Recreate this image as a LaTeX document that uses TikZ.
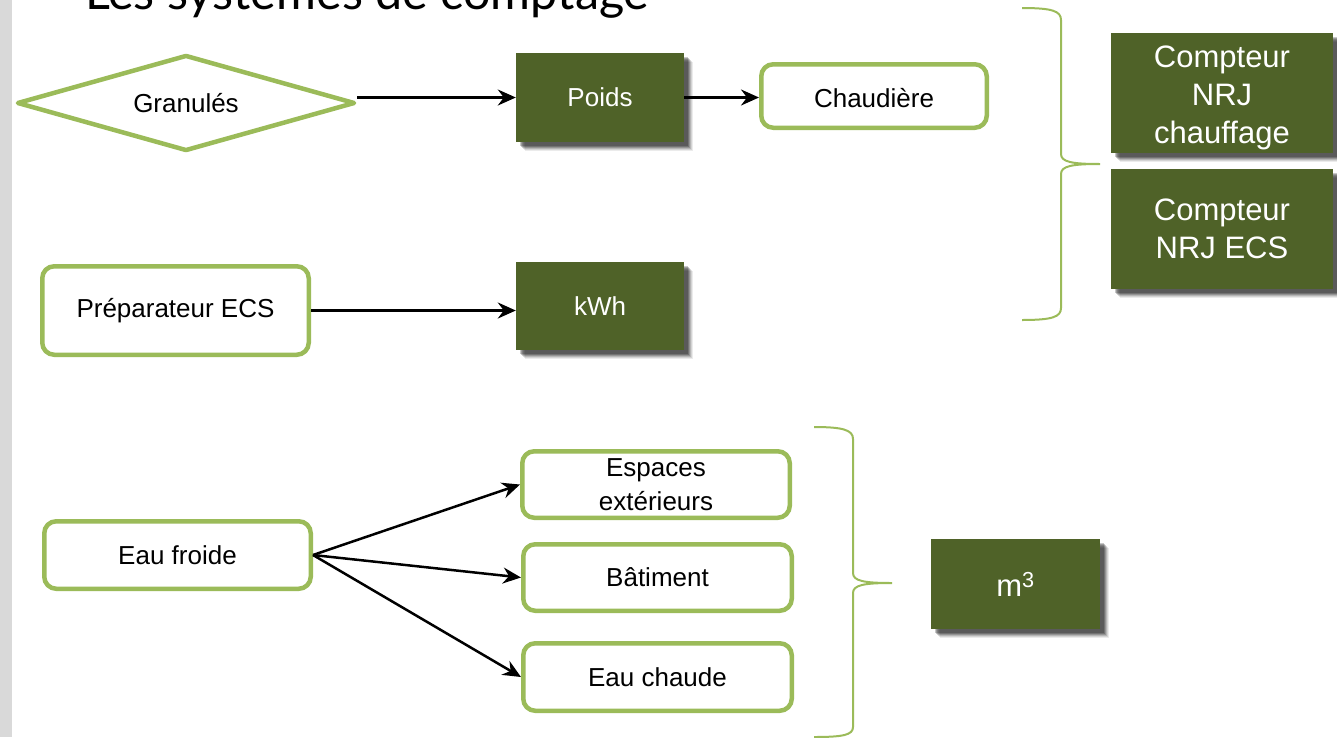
\documentclass[tikz,border=0pt]{standalone}
\usepackage{fontspec}
\setmainfont{Liberation Sans}
\newfontfamily\titlefont{Lato}
\usetikzlibrary{shapes.geometric,arrows.meta,shadows}
\definecolor{olivedk}{HTML}{4F6228}
\definecolor{lgreen}{HTML}{9BBB59}
\definecolor{stripgray}{HTML}{D9D9D9}
\begin{document}
\begin{tikzpicture}[x=1pt,y=-1pt,
  greenbox/.style={draw=lgreen,line width=4.5pt,rounded corners=12pt,fill=white,inner sep=0pt,align=center,font=\fontsize{26}{34}\selectfont},
  softshadow/.style={
    drop shadow={shadow xshift=9pt,shadow yshift=-9pt,fill=black,opacity=0.08},
    drop shadow={shadow xshift=8pt,shadow yshift=-8pt,fill=black,opacity=0.10},
    drop shadow={shadow xshift=7pt,shadow yshift=-7pt,fill=black,opacity=0.14},
    drop shadow={shadow xshift=6pt,shadow yshift=-6pt,fill=black,opacity=0.18},
    drop shadow={shadow xshift=5pt,shadow yshift=-5pt,fill=black,opacity=0.22},
    drop shadow={shadow xshift=4pt,shadow yshift=-4pt,fill=black,opacity=0.22}},
  olivebox/.style={fill=olivedk,text=white,inner sep=0pt,align=center,softshadow,font=\fontsize{26}{34}\selectfont},
  bigtext/.style={font=\fontsize{31}{38}\selectfont},
  arr/.style={-{Stealth[length=18pt,width=16pt,inset=6pt]},line width=2.5pt},
  bracestyle/.style={draw=lgreen,line width=2pt}]
\useasboundingbox (0,0) rectangle (1337,737);
\fill[stripgray] (0,0) rectangle (12,737);
\node[anchor=base west,inner sep=0pt,font=\titlefont\fontsize{48.5}{56}\selectfont] (title) at (85,9) {Les systèmes de comptage};

% top row
\node[diamond,aspect=3.4,draw=lgreen,line width=4.5pt,line join=round,fill=white,minimum width=338pt,minimum height=96pt,inner sep=0pt,font=\fontsize{26}{30}\selectfont] (gran) at (186,103) {Granulés};
\node[olivebox,minimum width=168pt,minimum height=89pt] (poids) at (600,97.5) {Poids};
\node[greenbox,minimum width=225.5pt,minimum height=63.5pt] (chaud) at (874,96) {\raisebox{-2pt}[\height][\depth]{Chaudière}};
\draw[arr] (gran.east |- poids.west) -- (poids.west);
\draw[arr] (poids.east) -- (poids.east -| chaud.west);

% second row
\node[greenbox,minimum width=266.5pt,minimum height=88.5pt] (prep) at (175.5,310.5) {Préparateur ECS};
\node[olivebox,minimum width=168pt,minimum height=88pt] (kwh) at (600,306) {kWh};
\draw[arr] (prep.east) -- (prep.east -| kwh.west);

% right meters
\node[olivebox,bigtext,minimum width=222pt,minimum height=120pt] (cc) at (1222,93) {\raisebox{-5pt}[\height][\depth]{\begin{tabular}{@{}c@{}}Compteur\\NRJ\\chauffage\end{tabular}}};
\node[olivebox,bigtext,minimum width=222pt,minimum height=120pt] (ce) at (1222,229) {Compteur\\NRJ ECS};

% brace 1
\coordinate (b1t) at (1022,8);
\coordinate (b1m) at (1100,164);
\coordinate (b1b) at (1022,320);
\draw[bracestyle] (b1t) .. controls (1052,8) and (1061,11) .. (1061,20) -- (1061,154)
  .. controls (1061,162) and (1072,164) .. (b1m)
  .. controls (1072,164) and (1061,166) .. (1061,174) -- (1061,308)
  .. controls (1061,317) and (1052,320) .. (b1b);

% water group
\node[greenbox,minimum width=266.5pt,minimum height=67.5pt] (froide) at (177.5,555) {Eau froide};
\node[greenbox,minimum width=267.5pt,minimum height=66.5pt] (esp) at (656,484.5) {Espaces\\extérieurs};
\node[greenbox,minimum width=268.5pt,minimum height=66.5pt] (bat) at (657.5,577.5) {Bâtiment};
\node[greenbox,minimum width=268.5pt,minimum height=67.5pt] (chaude) at (657.5,677) {Eau chaude};
\draw[arr] (froide.east) -- (esp.west);
\draw[arr] (froide.east) -- (bat.west);
\draw[arr] (froide.east) -- (chaude.west);

% brace 2
\coordinate (b2t) at (814,427);
\coordinate (b2m) at (892,583);
\coordinate (b2b) at (814,737);
\draw[bracestyle] (b2t) .. controls (843,427) and (853,430) .. (853,439) -- (853,573)
  .. controls (853,581) and (864,583) .. (b2m)
  .. controls (864,583) and (853,585) .. (853,593) -- (853,727)
  .. controls (853,735) and (843,737) .. (b2b);

\node[olivebox,bigtext,minimum width=169pt,minimum height=90pt] (m3) at (1015.5,584) {m\textsuperscript{3}};
\end{tikzpicture}
\end{document}
